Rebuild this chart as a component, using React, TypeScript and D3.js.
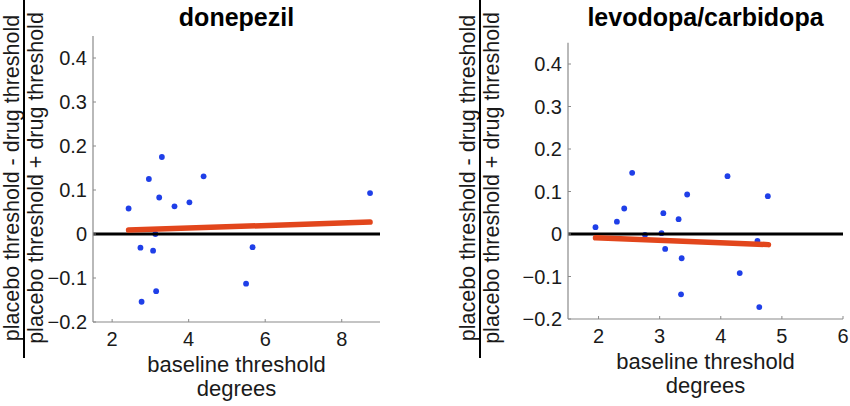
import React from "react";
import * as d3 from "d3";

// ---- data ----
const donepezilX = [2.43, 2.74, 2.77, 2.96, 3.07, 3.15, 3.23, 3.30, 3.13, 3.63, 4.02, 4.39, 5.50, 5.67, 8.74];
const donepezilY = [0.058, -0.031, -0.154, 0.125, -0.038, -0.130, 0.083, 0.175, 0.0, 0.063, 0.072, 0.131, -0.113, -0.030, 0.093];
const donepezilFitX = [2.43, 8.74];
const donepezilFitY = [0.009, 0.027];

const levodopaX = [1.95, 2.30, 2.42, 2.55, 2.76, 3.03, 3.06, 3.09, 3.31, 3.36, 3.35, 3.45, 4.11, 4.31, 4.60, 4.63, 4.77];
const levodopaY = [0.016, 0.029, 0.060, 0.144, -0.002, 0.002, 0.049, -0.035, 0.035, -0.057, -0.142, 0.093, 0.136, -0.092, -0.016, -0.172, 0.089];
const levodopaFitX = [1.95, 4.78];
const levodopaFitY = [-0.009, -0.025];

const yTicks = [-0.2, -0.1, 0, 0.1, 0.2, 0.3, 0.4];
const donepezilXTicks = [2, 4, 6, 8];
const levodopaXTicks = [2, 3, 4, 5, 6];

const titles = ["donepezil", "levodopa/carbidopa"];
const xLabel1 = "baseline threshold";
const xLabel2 = "degrees";
const yNumerator = "placebo threshold - drug threshold";
const yDenominator = "placebo threshold + drug threshold";

const FONT = "'Liberation Sans', Arial, Helvetica, sans-serif";
const AXIS = "#8a8a8a";
const TEXT = "#1a1a1a";
const BLUE = "#1f3fe8";
const RED = "#e2461c";

type PanelProps = {
  title: string;
  xs: number[];
  ys: number[];
  fitX: number[];
  fitY: number[];
  xDomain: [number, number];
  xRange: [number, number];
  yRange: [number, number];
  xTicks: number[];
  labelX: number;
};

function Panel(p: PanelProps) {
  const x = d3.scaleLinear().domain(p.xDomain).range(p.xRange);
  const y = d3.scaleLinear().domain([-0.2, 0.45]).range(p.yRange);
  const [x0, x1] = p.xRange;
  const yb = y(-0.2);
  const yt = y(0.45);
  const line = d3
    .line<number>()
    .x((_, i) => x(p.fitX[i]))
    .y((d) => y(d));
  const fmt = (v: number) => (v === 0 ? "0" : d3.format(".1f")(v));
  const cx = (x0 + x1) / 2;
  const labelCy = 178;
  return (
    <g fontFamily={FONT}>
      {/* title */}
      <text x={cx} y={26} textAnchor="middle" fontWeight="bold" fontSize={25} fill="#000">
        {p.title}
      </text>
      {/* points */}
      {p.xs.map((v, i) => (
        <circle key={i} cx={x(v)} cy={y(p.ys[i])} r={2.9} fill={BLUE} />
      ))}
      {/* zero line */}
      <line x1={x0} x2={x1} y1={y(0)} y2={y(0)} stroke="#000" strokeWidth={3.2} />
      {/* fit line */}
      <path d={line(p.fitY) || ""} stroke={RED} strokeWidth={5.5} fill="none" strokeLinecap="round" />
      {/* axes */}
      <line x1={x0} x2={x0} y1={yt} y2={yb} stroke={AXIS} strokeWidth={1.2} />
      <line x1={x0} x2={x1} y1={yb} y2={yb} stroke={AXIS} strokeWidth={1.2} />
      {yTicks.map((t) => (
        <g key={"y" + t}>
          <line x1={x0} x2={x0 + 3} y1={y(t)} y2={y(t)} stroke={AXIS} strokeWidth={1} />
          <text x={x0 - 6} y={y(t)} dy="0.35em" textAnchor="end" fontSize={20} fill={TEXT}>
            {fmt(t)}
          </text>
        </g>
      ))}
      {p.xTicks.map((t) => (
        <g key={"x" + t}>
          <line x1={x(t)} x2={x(t)} y1={yb} y2={yb - 3} stroke={AXIS} strokeWidth={1} />
          <text x={x(t)} y={yb + 24} textAnchor="middle" fontSize={20} fill={TEXT}>
            {t}
          </text>
        </g>
      ))}
      <text x={cx} y={yb + 50} textAnchor="middle" fontSize={22} fill={TEXT}>
        {xLabel1}
      </text>
      <text x={cx} y={yb + 74} textAnchor="middle" fontSize={22} fill={TEXT}>
        {xLabel2}
      </text>
      {/* y label as fraction */}
      <g transform={`translate(${p.labelX},${labelCy}) rotate(-90)`}>
        <text x={0} y={-5} textAnchor="middle" fontSize={21.5} fill={TEXT}>
          {yNumerator}
        </text>
        <line x1={-180} x2={178} y1={0} y2={0} stroke="#000" strokeWidth={2} />
        <text x={0} y={19} textAnchor="middle" fontSize={21.5} fill={TEXT}>
          {yDenominator}
        </text>
      </g>
    </g>
  );
}

export default function App() {
  return (
    <svg
      width={850}
      height={406}
      style={{ position: "absolute", left: 0, top: 0, background: "#fff" }}
    >
      <rect width={850} height={406} fill="#fff" />
      <Panel
        title={titles[0]}
        xs={donepezilX}
        ys={donepezilY}
        fitX={donepezilFitX}
        fitY={donepezilFitY}
        xDomain={[1.5, 9]}
        xRange={[93, 380]}
        yRange={[322, 36]}
        xTicks={donepezilXTicks}
        labelX={24}
      />
      <Panel
        title={titles[1]}
        xs={levodopaX}
        ys={levodopaY}
        fitX={levodopaFitX}
        fitY={levodopaFitY}
        xDomain={[1.5, 6]}
        xRange={[568, 843]}
        yRange={[319, 42.75]}
        xTicks={levodopaXTicks}
        labelX={480}
      />
    </svg>
  );
}
